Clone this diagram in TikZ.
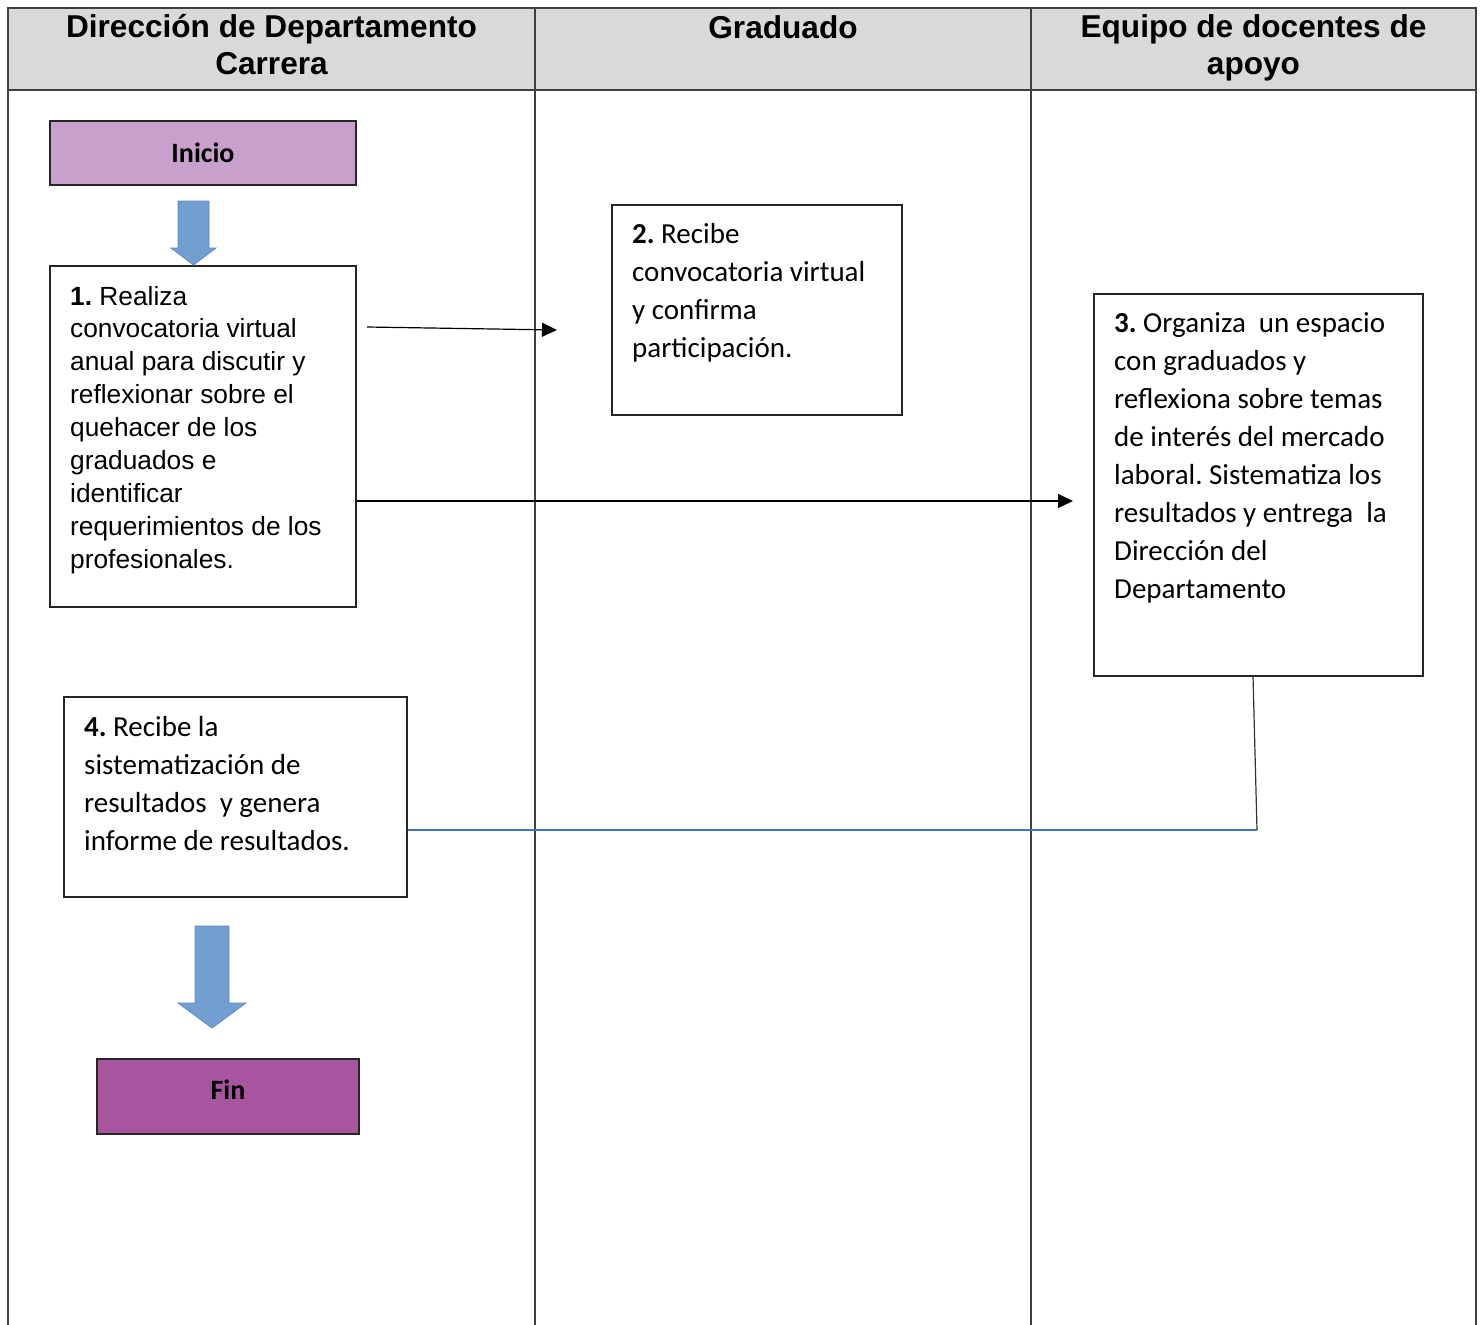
\documentclass[tikz,border=0pt]{standalone}
\usepackage{fontspec}
\newfontfamily\arialf{Liberation Sans}
\newfontfamily\calibrif{Carlito}
\usetikzlibrary{arrows.meta}
\definecolor{hdrgray}{HTML}{D9D9D9}
\definecolor{tblline}{HTML}{404040}
\definecolor{inicioc}{HTML}{C8A0CB}
\definecolor{finc}{HTML}{A855A0}
\definecolor{blockblue}{HTML}{729FCF}
\definecolor{blockedge}{HTML}{5B8BC5}
\definecolor{linkblue}{HTML}{4472C4}
\frenchspacing
\begin{document}
\begin{tikzpicture}[x=1pt,y=-1pt,
  tbl/.style={draw=tblline,line width=1.5pt},
  boxnode/.style={draw=black!85,line width=1.3pt,rectangle,inner sep=0pt,anchor=center},
  hdrtext/.style={anchor=base,align=center,inner sep=0pt,font={\arialf\bfseries\fontsize{31.6}{36}\selectfont}},
  arialtext/.style={anchor=base west,align=left,inner sep=0pt,font={\arialf\fontsize{26.3}{32.9}\selectfont\frenchspacing}},
  calibritext/.style={anchor=base west,align=left,inner sep=0pt,font={\calibrif\fontsize{29}{38}\selectfont\frenchspacing}},
  termtext/.style={font={\calibrif\bfseries\fontsize{28}{32}\selectfont}},
  conn/.style={draw=black,line width=1.2pt,-{Triangle[length=15pt,width=14pt]}},
  bluelink/.style={draw=linkblue,line width=1.2pt},
  blockarrow/.style={fill=blockblue,draw=blockedge,line width=0.8pt}
]
\useasboundingbox (0,0) rectangle (1483,1325);
% header band
\fill[hdrgray] (8,8) rectangle (1476,90);
\draw[tbl] (8,1325) -- (8,8) -- (1476,8) -- (1476,1325);
\draw[tbl] (8,90) -- (1476,90);
\draw[tbl] (535,8) -- (535,1325);
\draw[tbl] (1031,8) -- (1031,1325);
% (anchor base = baseline of the last line)
\node[hdrtext] (h1) at (271.5,74) {Dirección de Departamento\\Carrera};
\node[hdrtext] (h2) at (783,38) {Graduado};
\node[hdrtext] (h3) at (1253.5,74) {Equipo de docentes de\\apoyo};

% terminals
\node[boxnode,fill=inicioc,minimum width=306pt,minimum height=64pt,termtext] (inicio) at (203,153) {Inicio};
\node[boxnode,fill=finc,minimum width=262pt,minimum height=75pt,termtext,text depth=14pt] (fin) at (228,1096.5) {Fin};

% process boxes
\node[boxnode,minimum width=306pt,minimum height=341pt] (b1) at (203,436.5) {};
\node[boxnode,minimum width=290pt,minimum height=210pt] (b2) at (757,310) {};
\node[boxnode,minimum width=329pt,minimum height=382pt] (b3) at (1258.5,485) {};
\node[boxnode,minimum width=343pt,minimum height=200pt] (b4) at (235.5,797) {};

\node[arialtext] (t1) at (70,568.2) {\textbf{1.} Realiza\\convocatoria virtual\\anual para discutir y\\reflexionar sobre el\\quehacer de los\\graduados e\\identificar\\requerimientos de los\\profesionales.};
\node[calibritext] (t2) at (632,357) {\textbf{2.} Recibe\\convocatoria virtual\\y confirma\\participación.};
\node[calibritext] (t3) at (1114,598) {\textbf{3.} Organiza\ \ un espacio\\con graduados y\\reflexiona sobre temas\\de interés del mercado\\laboral. Sistematiza los\\resultados y entrega\ \ la\\Dirección del\\Departamento};
\node[calibritext] (t4) at (84,850) {\textbf{4.} Recibe la\\sistematización de\\resultados\ \ y genera\\informe de resultados.};

% block arrows
\path[blockarrow] (178,201) -- (209,201) -- (209,248) -- (216,248) -- (193.5,265) -- (171,248) -- (178,248) -- cycle;
\path[blockarrow] (195,926) -- (229,926) -- (229,1003) -- (246,1003) -- (212,1028) -- (178,1003) -- (195,1003) -- cycle;

% connectors
\coordinate (c12s) at (367,327);
\coordinate (c12e) at (557,330);
\draw[conn] (c12s) -- (c12e);
\coordinate (c13e) at (1073,501);
\draw[conn] (c13e -| b1.east) -- (c13e);
\coordinate (c34top) at (1253,676);
\coordinate (c34) at (1257,830);
\draw[bluelink] (c34 -| b4.east) -- (c34);
\draw[draw=black!80,line width=1.2pt] (c34) -- (c34top);
\end{tikzpicture}
\end{document}
